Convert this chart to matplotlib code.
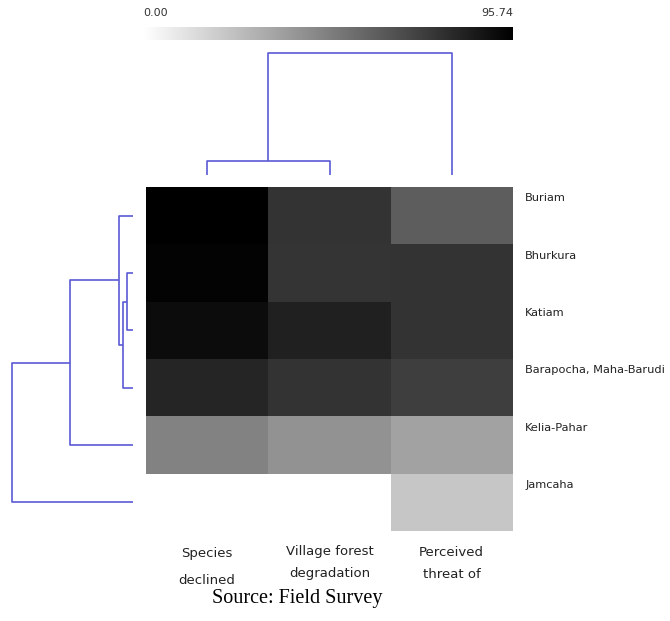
import numpy as np
import matplotlib
matplotlib.use('Agg')
import matplotlib.pyplot as plt
from matplotlib.colors import LinearSegmentedColormap, Normalize
from matplotlib.cm import ScalarMappable

# data
villages = ['Buriam', 'Bhurkura', 'Katiam', 'Barapocha, Maha-Barudi', 'Kelia-Pahar', 'Jamcaha']
indicators = ['Species\ndeclined', 'Village forest\ndegradation', 'Perceived\nthreat of']
species_declined = [95.7, 94.6, 91.2, 81.8, 46.9, 0.0]
forest_degradation = [76.6, 76.2, 83.7, 76.6, 40.9, 0.0]
perceived_threat = [60.8, 76.6, 76.6, 72.4, 34.9, 21.4]
vmin, vmax = 0.00, 95.74

# dendrogram merges: (child a, child b, height); ids >= n are earlier merges
row_merges = [(1, 2, 6.5), (6, 3, 10), (0, 7, 14), (8, 4, 63), (9, 5, 121)]
col_merges = [(0, 1, 14), (3, 2, 122)]

W, H = 670, 621
fig = plt.figure(figsize=(W / 100, H / 100), dpi=100)


def px_axes(x0, y0, x1, y1):
    return fig.add_axes([x0 / W, 1 - y1 / H, (x1 - x0) / W, (y1 - y0) / H])


line_col = '#5a5ad6'


def dendro_segments(merges, n):
    pos = {i: i + 0.5 for i in range(n)}
    hgt = {i: 0.0 for i in range(n)}
    segs = []
    for k, (a, b, h) in enumerate(merges):
        segs.append(([pos[a], pos[a], pos[b], pos[b]], [hgt[a], h, h, hgt[b]]))
        pos[n + k] = (pos[a] + pos[b]) / 2
        hgt[n + k] = h
    return segs


cmap = LinearSegmentedColormap.from_list('wb', ['white', 'black'])
data = np.array([species_declined, forest_degradation, perceived_threat]).T

# heatmap
ax = px_axes(146, 187, 513, 531)
ax.pcolormesh(data, cmap=cmap, vmin=vmin, vmax=vmax)
ax.set_xlim(0, 3)
ax.set_ylim(6, 0)
ax.axis('off')
for i, name in enumerate(villages):
    ax.text(3.1, i + 0.2, name, fontsize=8.2, color='#222222', va='center', ha='left')
col_ys = [[554, 581], [552, 574], [552, 574]]
for j, name in enumerate(indicators):
    for k, part in enumerate(name.split('\n')):
        fig.text((146 + 122.3 * (j + 0.5)) / W, 1 - col_ys[j][k] / H, part,
                 fontsize=9.5, color='#222222', ha='center', va='center')

# left dendrogram
axl = px_axes(0, 187, 133, 531)
for xs, ys in dendro_segments(row_merges, 6):
    axl.plot(ys, xs, color=line_col, lw=1.2, solid_capstyle='butt')
axl.set_xlim(133, 0)
axl.set_ylim(6, 0)
axl.axis('off')

# top dendrogram
axt = px_axes(146, 0, 513, 175)
for xs, ys in dendro_segments(col_merges, 3):
    axt.plot(xs, ys, color=line_col, lw=1.2, solid_capstyle='butt')
axt.set_xlim(0, 3)
axt.set_ylim(0, 175)
axt.axis('off')

# colour scale
axc = px_axes(143, 27, 513, 40)
cb = fig.colorbar(ScalarMappable(norm=Normalize(vmin, vmax), cmap=cmap), cax=axc,
                  orientation='horizontal')
cb.outline.set_visible(False)
cb.set_ticks([])
fig.text(143 / W, 1 - 13 / H, f'{vmin:.2f}', fontsize=8, color='#333333', ha='left', va='center')
fig.text(513 / W, 1 - 13 / H, f'{vmax:.2f}', fontsize=8, color='#333333', ha='right', va='center')

fig.text(297 / W, 1 - 598 / H, 'Source: Field Survey', fontsize=14.5, family='Liberation Serif',
         ha='center', va='center', color='black')

fig.savefig('out.png', dpi=100, facecolor='white')
